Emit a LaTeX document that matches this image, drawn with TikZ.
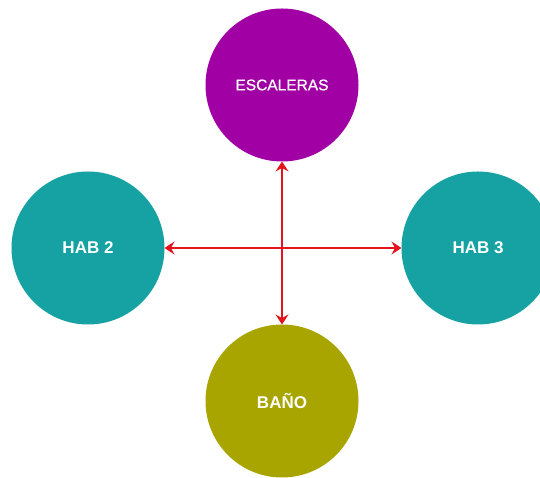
\documentclass[tikz,border=0pt]{standalone}
\usepackage{fontspec}
\setmainfont{Liberation Sans}
\newfontfamily\mediumsans[FakeBold=0.8]{Liberation Sans}
\usetikzlibrary{arrows.meta}
\definecolor{roompurple}{HTML}{A100A4}
\definecolor{roomteal}{HTML}{16A2A2}
\definecolor{roomolive}{HTML}{A8A400}
\definecolor{linkred}{HTML}{E3141C}
\begin{document}
\begin{tikzpicture}[x=1pt,y=1pt,
  room/.style={circle, minimum size=153pt, inner sep=0pt, outer sep=0pt,
    text=white, font=\fontsize{17}{20}\selectfont\bfseries},
  link/.style={draw=linkred, line width=2.2pt,
    {Stealth[length=10pt,width=13pt,inset=3.5pt]}-{Stealth[length=10pt,width=13pt,inset=3.5pt]}}]
  \useasboundingbox (0,0) rectangle (540,478);
  % rooms
  \node[room, fill=roompurple, font=\mediumsans\fontsize{15.5}{19}\selectfont] (esc) at (282,393) {ESCALERAS};
  \node[room, fill=roomteal] (hab2) at (88,230) {HAB 2};
  \node[room, fill=roomteal] (hab3) at (478,230) {HAB 3};
  \node[room, fill=roomolive] (bano) at (282,77) {BAÑO};
  % connections
  \draw[link] (esc) -- (bano);
  \draw[link] (hab2) -- (hab3);
\end{tikzpicture}
\end{document}
